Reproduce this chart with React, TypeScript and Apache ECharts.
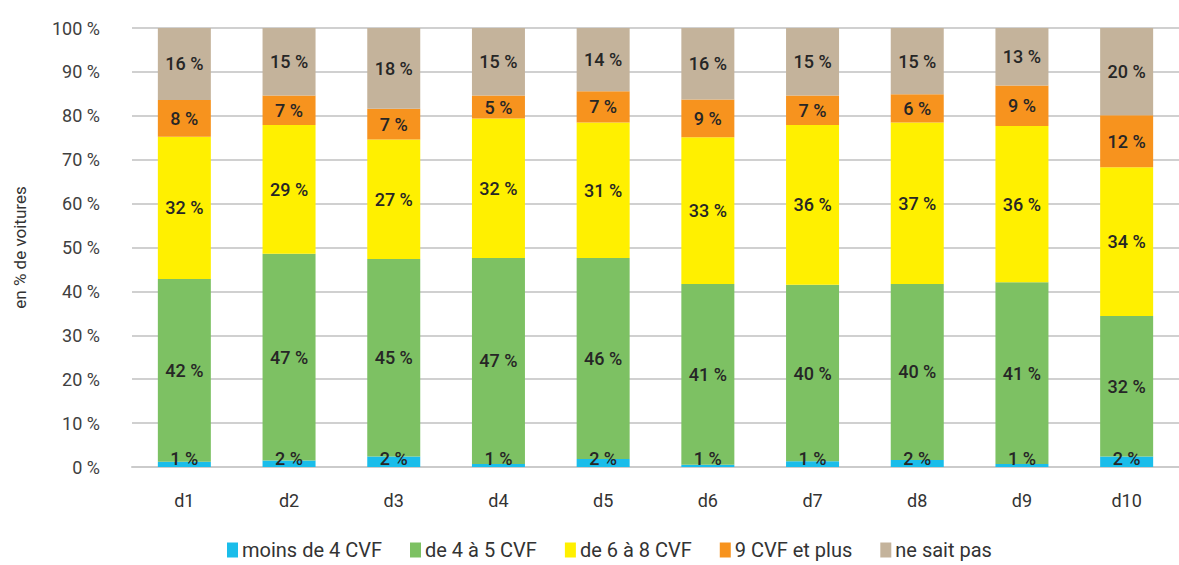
import React, { useEffect, useRef } from "react";
import * as echarts from "echarts";

const categories = ["d1", "d2", "d3", "d4", "d5", "d6", "d7", "d8", "d9", "d10"];
const seriesNames = ["moins de 4 CVF", "de 4 à 5 CVF", "de 6 à 8 CVF", "9 CVF et plus", "ne sait pas"];
const moins4 = [1.2, 1.5, 2.4, 0.7, 1.8, 0.5, 1.3, 1.6, 0.7, 2.4];
const de4a5 = [41.6, 47.1, 45.0, 46.9, 45.8, 41.2, 40.2, 40.1, 41.4, 32.0];
const de6a8 = [32.4, 29.3, 27.2, 31.8, 30.9, 33.4, 36.4, 36.8, 35.6, 33.9];
const plus9 = [8.4, 6.7, 7.0, 5.2, 7.1, 8.6, 6.7, 6.4, 9.2, 11.8];
const neSaitPas = [16.4, 15.4, 18.4, 15.4, 14.4, 16.3, 15.4, 15.1, 13.1, 19.9];
const yTicks = [0, 10, 20, 30, 40, 50, 60, 70, 80, 90, 100];

const colors = ["#1ABDEA", "#7DC163", "#FFF000", "#F7931E", "#C4B39B"];
const FONT = "Roboto, 'Noto Sans', sans-serif";

export default function App() {
  const ref = useRef<HTMLDivElement>(null);
  useEffect(() => {
    if (!ref.current) return;
    const chart = echarts.init(ref.current, null, { renderer: "svg" });
    const all = [moins4, de4a5, de6a8, plus9, neSaitPas];
    const series = all.map((data, i) => ({
      name: seriesNames[i],
      type: "bar",
      stack: "total",
      barWidth: 53,
      data,
      itemStyle: { color: colors[i] },
      label: {
        show: true,
        position: i === 0 ? "insideBottom" : "inside",
        distance: 0,
        formatter: (p: any) => Math.round(p.value) + " %",
        color: "#262626",
        fontFamily: FONT,
        fontSize: 18,
        fontWeight: 500,
      },
    }));
    chart.setOption({
      animation: false,
      grid: { left: 132, right: -10, top: 28, bottom: 98, containLabel: false },
      legend: {
        bottom: 0,
        left: 222,
        itemWidth: 11,
        itemHeight: 15,
        itemGap: 28,
        icon: "rect",
        textStyle: { fontFamily: FONT, fontSize: 20, color: "#333", padding: [0, 0, 0, -1] },
        data: seriesNames,
      },
      xAxis: {
        type: "category",
        data: categories,
        axisLine: { show: true, lineStyle: { color: "#CBCBCB", width: 2 } },
        axisTick: { show: false },
        axisLabel: { fontFamily: FONT, fontSize: 18, color: "#333", margin: 24 },
      },
      yAxis: {
        type: "value",
        min: 0,
        max: 100,
        interval: 10,
        name: "en % de voitures",
        nameLocation: "middle",
        nameGap: 104,
        nameRotate: 90,
        nameTextStyle: { fontFamily: FONT, fontSize: 17, color: "#333" },
        axisLabel: {
          fontFamily: FONT,
          fontSize: 18,
          color: "#404040",
          margin: 32,
          formatter: (v: number) => (yTicks.includes(v) ? v + " %" : ""),
        },
        splitLine: { lineStyle: { color: "#D0D0D0", width: 2 } },
        axisLine: { show: false },
        axisTick: { show: false },
      },
      series,
    });
    return () => chart.dispose();
  }, []);
  return <div ref={ref} style={{ width: 1179, height: 565, position: "absolute", left: 0, top: 0 }} />;
}
